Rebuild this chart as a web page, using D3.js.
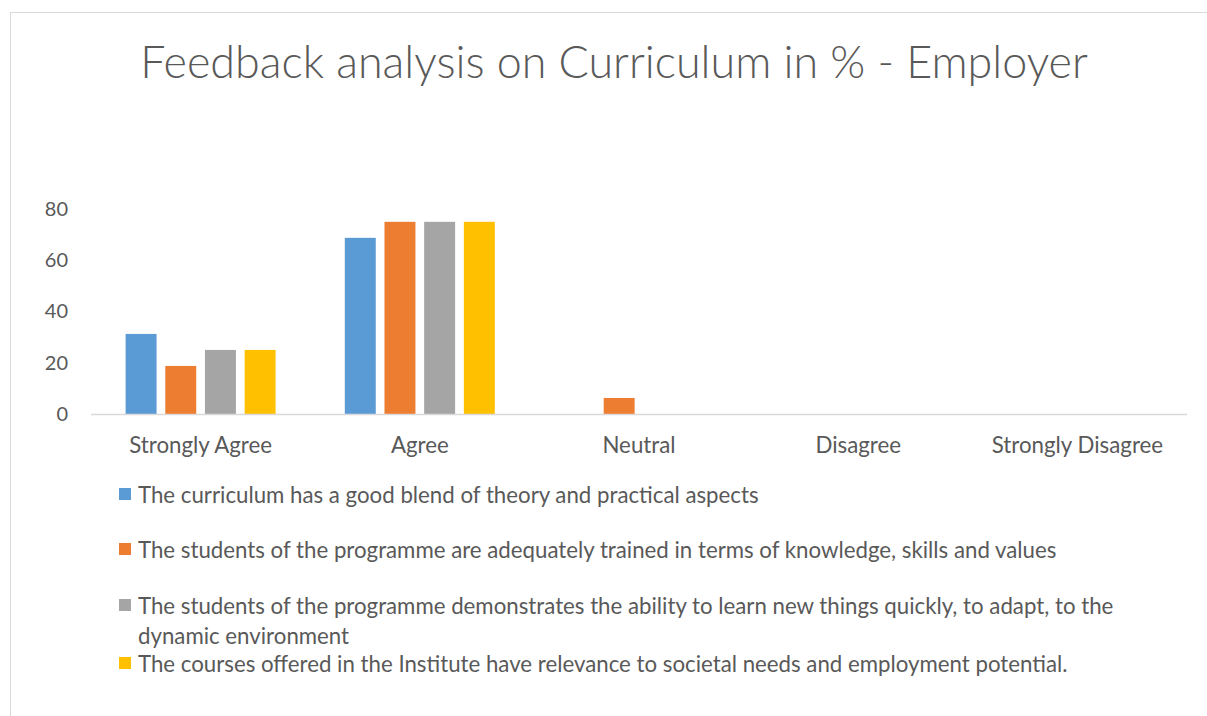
<!DOCTYPE html>
<html lang="en">
<head>
<meta charset="utf-8"/>
<title>Feedback analysis on Curriculum - Employer</title>
<style>
  body { margin: 0; background: #fff; }
  svg { display: block; }
  text { font-family: Lato, "Open Sans", sans-serif; fill: #595959; }
  .axis path, .axis line { display: none; }
</style>
</head>
<body>
<div class="viz"></div>
<script src="https://cdnjs.cloudflare.com/ajax/libs/d3/7.8.5/d3.min.js"></script>
<script>
// categories on the x axis
var categories = ["Strongly Agree", "Agree", "Neutral", "Disagree", "Strongly Disagree"];

// one array per question (values in %)
var blendTheory   = [31.25, 68.75, 0, 0, 0];
var trainedSkills = [18.75, 75, 6.25, 0, 0];
var learnQuickly  = [25, 75, 0, 0, 0];
var relevance     = [25, 75, 0, 0, 0];

var seriesNames = [
  ["The curriculum has a good blend of theory and practical aspects"],
  ["The students of the programme are adequately trained in terms of knowledge, skills and values"],
  ["The students of the programme demonstrates the ability to learn new things quickly, to adapt, to the", "dynamic environment"],
  ["The courses offered in the Institute have relevance to societal needs and employment potential."]
];
var seriesValues = [blendTheory, trainedSkills, learnQuickly, relevance];
var colors = ["#5B9BD5", "#ED7D31", "#A5A5A5", "#FFC000"];
var yTicks = [0, 20, 40, 60, 80];

var width = 1207, height = 716;

var svg = d3.select(".viz").append("svg")
    .attr("width", width)
    .attr("height", height);

// chart frame
svg.append("rect")
    .attr("x", 10.5).attr("y", 12.5)
    .attr("width", 1220).attr("height", 730)
    .attr("fill", "none")
    .attr("stroke", "#d9d9d9");

// fit a text element's font size to a target width
function fitWidth(sel, target) {
  var w = sel.node().getComputedTextLength();
  var fs = parseFloat(sel.style("font-size"));
  sel.style("font-size", (fs * target / w) + "px");
  return fs * target / w;
}

var title = svg.append("text")
    .attr("x", 614).attr("y", 78)
    .attr("text-anchor", "middle")
    .style("font-size", "46px")
    .style("font-weight", 300)
    .text("Feedback analysis on Curriculum in % - Employer");
fitWidth(title, 948);

var x = d3.scaleBand().domain(categories).range([91, 1187]);
var y = d3.scaleLinear().domain([0, 80]).range([414, 209]);
var x1 = d3.scaleBand().domain(d3.range(seriesValues.length))
    .range([-75, 75]).paddingInner(0.22);

// y axis labels
svg.append("g")
    .attr("class", "axis")
    .attr("transform", "translate(71,0)")
    .call(d3.axisLeft(y).tickValues(yTicks).tickSize(0).tickPadding(3))
    .selectAll("text")
    .style("font-size", "20px")
    .style("fill", "#595959");

// bars
seriesValues.forEach(function(vals, i) {
  svg.append("g")
      .selectAll("rect")
      .data(vals)
      .enter().append("rect")
      .attr("x", function(d, j) { return x(categories[j]) + x.bandwidth() / 2 + x1(i); })
      .attr("y", function(d) { return y(d); })
      .attr("width", x1.bandwidth())
      .attr("height", function(d) { return y(0) - y(d); })
      .attr("fill", colors[i]);
});

// x axis line
svg.append("line")
    .attr("x1", 91).attr("x2", 1187)
    .attr("y1", y(0) + 0.5).attr("y2", y(0) + 0.5)
    .attr("stroke", "#d9d9d9")
    .attr("stroke-width", 1.3);

var xLabels = svg.append("g")
    .attr("class", "axis")
    .attr("transform", "translate(0," + y(0) + ")")
    .call(d3.axisBottom(x).tickSize(0).tickPadding(23))
    .selectAll("text")
    .style("font-size", "22px")
    .style("fill", "#595959");
fitWidth(d3.select(xLabels.nodes()[0]), 143);
xLabels.style("font-size", d3.select(xLabels.nodes()[0]).style("font-size"));

// legend
var legendY = [495, 550, 606, 664];
var legend = svg.append("g");
var legendFont = null;
seriesNames.forEach(function(lines, i) {
  legend.append("rect")
      .attr("x", 119).attr("y", legendY[i] - 7)
      .attr("width", 12).attr("height", 12)
      .attr("fill", colors[i]);
  var t = legend.append("text")
      .attr("x", 138).attr("y", legendY[i])
      .style("font-size", "19px");
  lines.forEach(function(line, k) {
    t.append("tspan")
        .attr("x", 138)
        .attr("dy", k === 0 ? "0.35em" : "30px")
        .text(line);
  });
  if (i === 0) legendFont = fitWidth(t, 621);
  else t.style("font-size", legendFont + "px");
});
</script>
</body>
</html>
